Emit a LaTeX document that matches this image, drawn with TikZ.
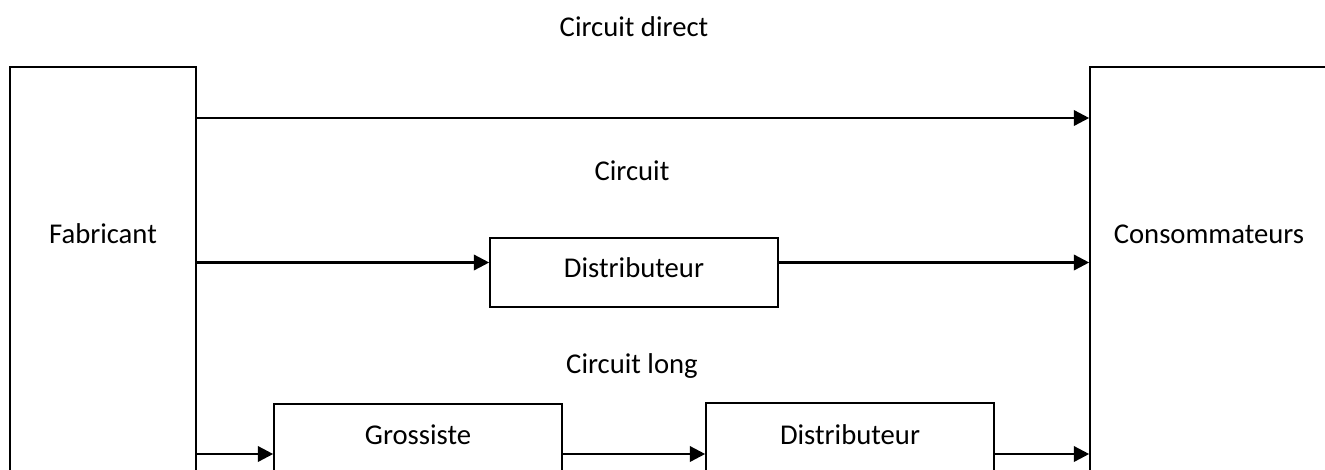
\documentclass[tikz,border=0pt]{standalone}
\usepackage{fontspec}
\setmainfont{Carlito}
\usetikzlibrary{arrows.meta,fit}

\begin{document}
\begin{tikzpicture}[x=0.75pt,y=-0.75pt,
  box/.style={draw=black,line width=1.2pt,inner sep=0pt,rectangle},
  arr/.style={line width=1.9pt,-{Triangle[length=11.5pt,width=11.5pt]}},
  txt/.style={anchor=base,inner sep=0pt,font=\fontsize{21.5pt}{26pt}\selectfont}]
  \useasboundingbox (0,0) rectangle (1325,469);
  \clip (0,0) rectangle (1325,469);

  % the two end boxes and the intermediaries
  \node (fab)   [box,fit={(10,67) (196,520)}] {};
  \node (con)   [box,fit={(1090,67) (1340,520)}] {};
  \node (dist1) [box,fit={(490,238) (778,307)}] {};
  \node (gros)  [box,fit={(274,404) (562,520)}] {};
  \node (dist2) [box,fit={(706,403) (994,520)}] {};

  % captions
  \node (tfab)   [txt] at (103,243) {Fabricant};
  \node (tcon)   [txt] at (1209,243) {Consommateurs};
  \node (tdist1) [txt] at (634,277) {Distributeur};
  \node (tgros)  [txt] at (418,444) {Grossiste};
  \node (tdist2) [txt] at (850,444) {Distributeur};
  \node (tdirect)[txt] at (634,36) {Circuit direct};
  \node (tcourt) [txt] at (632,180) {Circuit};
  \node (tlong)  [txt] at (632,373) {Circuit long};

  % rows of the three circuits
  \coordinate (r1) at (0,118);
  \coordinate (r2) at (0,262.5);
  \coordinate (r3) at (0,454);

  \draw[arr] (fab.east |- r1) -- (con.west |- r1);

  \draw[arr] (fab.east |- r2) -- (dist1.west |- r2);
  \draw[arr] (dist1.east |- r2) -- (con.west |- r2);

  \draw[arr] (fab.east |- r3) -- (gros.west |- r3);
  \draw[arr] (gros.east |- r3) -- (dist2.west |- r3);
  \draw[arr] (dist2.east |- r3) -- (con.west |- r3);
\end{tikzpicture}
\end{document}
